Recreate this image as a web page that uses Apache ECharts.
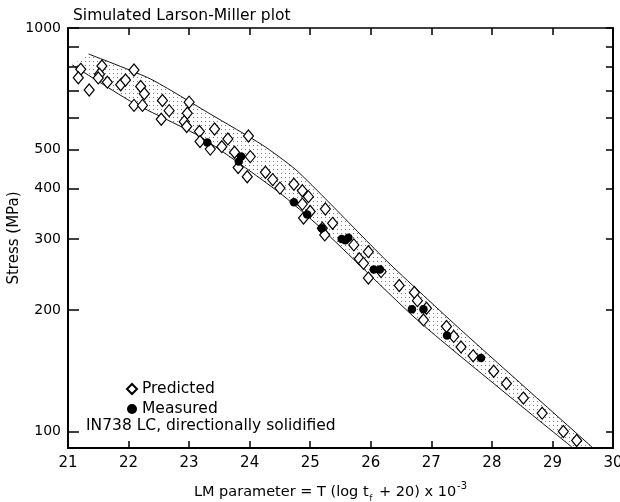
<!DOCTYPE html>
<html>
<head>
<meta charset="utf-8">
<script src="https://cdn.jsdelivr.net/npm/echarts@6/dist/echarts.min.js"></script>
<style>
html,body{margin:0;padding:0;background:#fff}
#main{width:620px;height:502px}
</style>
</head>
<body>
<div id="main"></div>
<script>
// values: [LM parameter, stress MPa]
var predicted = [
  [21.21,790],[21.17,753],[21.35,702],[21.56,805],[21.52,768],[21.50,752],
  [21.65,734],[21.87,723],[21.95,743],[22.09,787],[22.20,716],[22.26,687],
  [22.09,643],[22.23,643],[22.56,661],[22.67,624],[22.54,594],[23.00,655],
  [22.97,615],[22.92,586],[22.96,570],[23.17,554],[23.18,523],[23.35,501],
  [23.42,562],[23.64,531],[23.54,508],[23.98,540],[23.75,492],[24.01,480],
  [23.81,451],[23.96,428],[24.26,439],[24.38,421],[24.50,401],[24.73,410],
  [24.87,395],[24.97,382],[24.87,366],[25.00,351],[24.89,338],[25.25,356],
  [25.37,328],[25.20,319],[25.24,307],[25.72,290],[25.96,279],[25.81,268],
  [25.88,261],[26.17,249],[25.96,240],[26.47,230],[26.72,221],[26.77,211],
  [26.92,202],[26.87,189],[27.25,182],[27.37,172],[27.49,162],[27.69,154],
  [28.03,141],[28.24,131.5],[28.52,121],[28.83,111],[29.18,100],[29.40,95]
];
var measured = [
  [23.30,520],[23.86,480],[23.82,467],[24.73,370],[24.95,345],[25.19,319],
  [25.52,300],[25.58,298],[25.63,302],[26.05,252],[26.15,252],[26.68,201],
  [26.87,201],[27.26,173],[27.82,152]
];
// scatter band edges
var bandUpper = [
  [21.34,862],[22.36,748],[23.35,612],[24.21,513],[24.75,447],[25.30,371],
  [26.27,264],[27.48,179],[29.67,91]
];
var bandLower = [
  [21.07,810],[22.08,652],[23.19,537],[24.47,393],[25.17,320],[26.82,186],
  [29.34,91]
];
var xMin = 21, xMax = 30, xStep = 1;
var yMin = 91, yMax = 1000;
var yLabelValues = [100,200,300,400,500,1000];
var yTickValues = [100,200,300,400,500,600,700,800,900,1000];

var font = 'DejaVu Sans';

// stippled fill like the printed band
var dot = document.createElement('canvas');
dot.width = 4; dot.height = 4;
var dctx = dot.getContext('2d');
dctx.fillStyle = '#7a7a7a';
dctx.fillRect(1, 1, 1, 1);
var dotFill = {image: dot, repeat: 'repeat'};

var chart = echarts.init(document.getElementById('main'));

var option = {
  animation: false,
  backgroundColor: '#fff',
  textStyle: {fontFamily: font, color: '#000'},
  title: {
    text: 'Simulated Larson-Miller plot',
    left: 68, top: 3,
    textStyle: {fontSize: 15.5, fontWeight: 'normal', color: '#000', fontFamily: font}
  },
  grid: {left: 68, right: 7, top: 28, bottom: 54, outerBoundsMode: 'none', containLabel: false},
  legend: {
    data: ['Predicted', 'Measured'],
    orient: 'vertical',
    left: 121, top: 376,
    itemWidth: 10, itemHeight: 10,
    itemGap: 4,
    textStyle: {fontSize: 15.5, color: '#000', fontFamily: font}
  },
  graphic: [{
    type: 'text',
    left: 86, top: 418,
    style: {text: 'IN738 LC, directionally solidified', fontSize: 15.5, fill: '#000', fontFamily: font}
  }],
  xAxis: [{
    type: 'value', min: xMin, max: xMax, interval: xStep,
    position: 'bottom',
    name: '{a|LM parameter = T (log t}{s|f}{a| + 20) x 10}{p|-3}',
    nameLocation: 'middle', nameGap: 33, nameMoveOverlap: false,
    nameTextStyle: {
      padding: [0, 20, 0, 0],
      rich: {
        a: {fontSize: 14.5, fontFamily: font, color: '#000', lineHeight: 22},
        s: {fontSize: 8, fontFamily: font, color: '#000', verticalAlign: 'bottom', padding: [0, 2, 0, 1]},
        p: {fontSize: 10, fontFamily: font, color: '#000', verticalAlign: 'top', padding: [0, 0, 0, 1]}
      }
    },
    splitLine: {show: false},
    axisLine: {lineStyle: {color: '#000', width: 2}},
    axisTick: {inside: true, length: 7, lineStyle: {color: '#000', width: 1.5}},
    axisLabel: {fontSize: 15, color: '#000', margin: 8, fontFamily: font}
  }, {
    type: 'value', min: xMin, max: xMax, interval: xStep,
    position: 'top',
    splitLine: {show: false},
    axisLine: {lineStyle: {color: '#000', width: 1.5}},
    axisTick: {inside: true, length: 7, lineStyle: {color: '#000', width: 1.5}},
    axisLabel: {show: false}
  }],
  yAxis: [{
    type: 'log', min: yMin, max: yMax,
    position: 'left',
    name: 'Stress (MPa)',
    nameLocation: 'middle', nameGap: 46, nameRotate: 90, nameMoveOverlap: false,
    nameTextStyle: {fontSize: 15, color: '#000', fontFamily: font},
    splitLine: {show: false},
    axisLine: {lineStyle: {color: '#000', width: 2}},
    axisTick: {inside: true, length: 11, customValues: yTickValues, lineStyle: {color: '#000', width: 1.5}},
    axisLabel: {
      fontSize: 14, color: '#000', margin: 7, customValues: yLabelValues, fontFamily: font,
      formatter: function (v) { return String(Math.round(v)); }
    }
  }, {
    type: 'log', min: yMin, max: yMax,
    position: 'right',
    splitLine: {show: false},
    axisLine: {lineStyle: {color: '#000', width: 2}},
    axisTick: {inside: true, length: 7, customValues: yTickValues, lineStyle: {color: '#000', width: 1.5}},
    axisLabel: {show: false}
  }],
  series: [{
    type: 'custom',
    silent: true,
    clip: true,
    z: 1,
    data: [[xMin, yMax]],
    renderItem: function (params, api) {
      var pts = [];
      bandUpper.forEach(function (p) { pts.push(api.coord(p)); });
      bandLower.slice().reverse().forEach(function (p) { pts.push(api.coord(p)); });
      return {type: 'polygon', shape: {points: pts}, style: {fill: dotFill, stroke: null}};
    }
  }, {
    type: 'line', data: bandUpper, symbol: 'none', silent: true, smooth: 0.2, z: 2,
    lineStyle: {color: '#111', width: 1}
  }, {
    type: 'line', data: bandLower, symbol: 'none', silent: true, smooth: 0.2, z: 2,
    lineStyle: {color: '#111', width: 1}
  }, {
    name: 'Predicted',
    type: 'scatter', data: predicted, symbol: 'diamond', symbolSize: [10, 12], z: 3,
    itemStyle: {color: '#fff', borderColor: '#000', borderWidth: 1.2, opacity: 1}
  }, {
    name: 'Measured',
    type: 'scatter', data: measured, symbol: 'circle', symbolSize: 8.5, z: 4,
    itemStyle: {color: '#000', opacity: 1}
  }]
};

chart.setOption(option);
window.addEventListener('resize', chart.resize);
</script>
</body>
</html>
